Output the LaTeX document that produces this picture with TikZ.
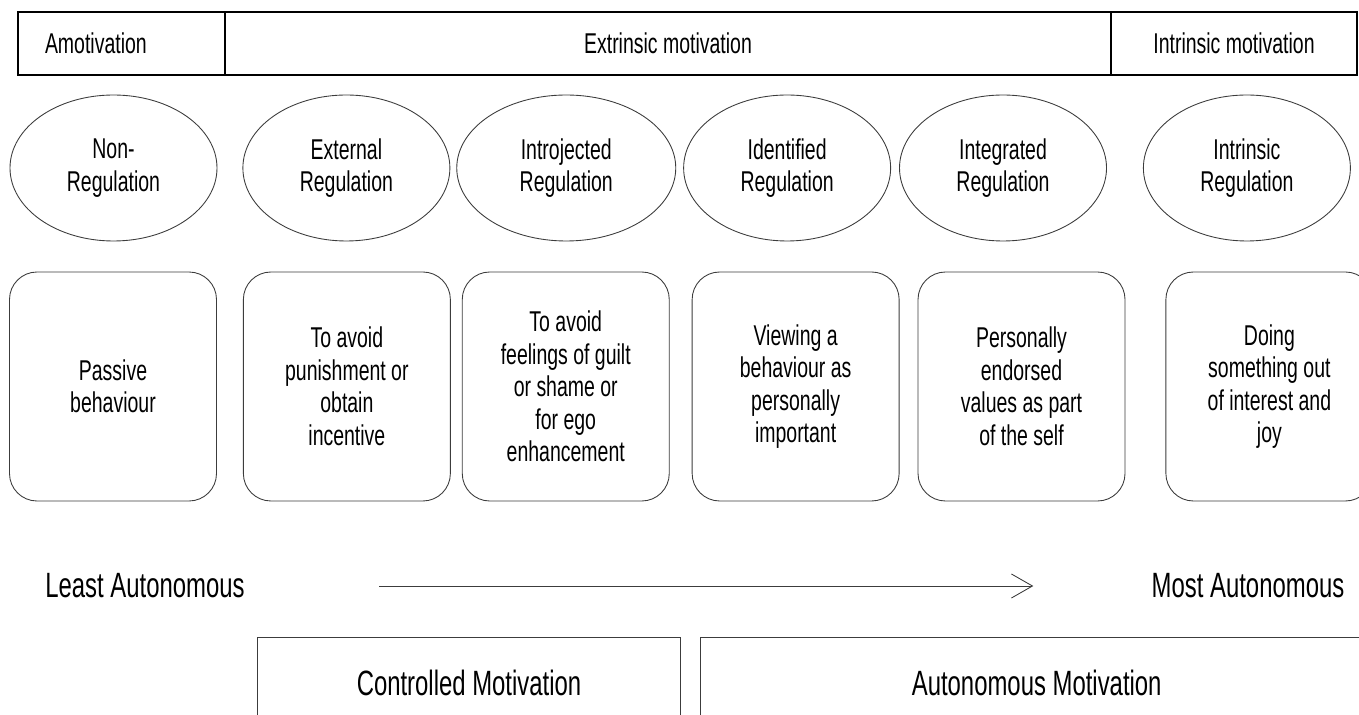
\documentclass[tikz,border=0pt]{standalone}
\usepackage{fontspec}
\setmainfont{Liberation Sans}[FakeStretch=0.68]
\usepackage{xcolor}
\definecolor{linegray}{RGB}{60, 60, 60}
\usepackage{tikz}
\usetikzlibrary{shapes.geometric, arrows.meta, positioning}
\tikzstyle{barbox} = [rectangle, draw, line width=0.9pt, inner sep=0pt, outer sep=0pt, minimum height=1.26cm, font=\fontsize{16.3pt}{18.5pt}\selectfont]
\tikzstyle{regellipse} = [ellipse, draw=linegray, line width=0.5pt, inner sep=0pt, minimum width=4.14cm, minimum height=2.92cm, align=center, font=\fontsize{16.3pt}{18.5pt}\selectfont]
\tikzstyle{behbox} = [rectangle, draw=linegray, line width=0.5pt, rounded corners=0.55cm, minimum width=4.14cm, minimum height=4.58cm, align=center, font=\fontsize{16.3pt}{18.5pt}\selectfont]
\tikzstyle{scalelabel} = [inner sep=0pt, font=\fontsize{20pt}{22pt}\selectfont]
\tikzstyle{groupbox} = [rectangle, inner sep=0pt, minimum height=1.8cm, font=\fontsize{20pt}{22pt}\selectfont]
\tikzstyle{arrow} = [draw=linegray, line width=0.5pt, -{Straight Barb[length=0.42cm, width=0.48cm]}]

\begin{document}
\begin{tikzpicture}[node distance=0.5cm]
    \useasboundingbox (0,0) rectangle (27.18,-14.3);

    % type of motivation
    \node[barbox, minimum width=4.14cm, text width=3.06cm, align=left] (amot) at (2.43,-0.87) {Amotivation};
    \node[barbox, minimum width=17.72cm, right=0cm of amot] (extr) {Extrinsic motivation};
    \node[barbox, minimum width=4.92cm, right=0cm of extr] (intr) {Intrinsic motivation};

    % type of regulation
    \node[regellipse] (nonreg) at (2.27,-3.36) {Non-\\Regulation};
    \node[regellipse, right=0.5cm of nonreg] (extreg) {External\\Regulation};
    \node[regellipse, minimum width=4.38cm, right=0.12cm of extreg] (introreg) {Introjected\\Regulation};
    \node[regellipse, right=0.14cm of introreg] (identreg) {Identified\\Regulation};
    \node[regellipse, right=0.16cm of identreg] (integreg) {Integrated\\Regulation};
    \node[regellipse, right=0.72cm of integreg] (intrreg) {Intrinsic\\Regulation};

    % behaviour
    \node[behbox] (passive) at (2.26,-7.73) {Passive\\behaviour};
    \node[behbox, right=0.52cm of passive] (avoidpun) {To avoid\\punishment or\\obtain\\incentive};
    \node[behbox, right=0.22cm of avoidpun] (avoidguilt) {To avoid\\feelings of guilt\\or shame or\\for ego\\enhancement};
    \node[behbox, right=0.44cm of avoidguilt] (viewing) {Viewing a\\behaviour as\\personally\\important};
    \node[behbox, right=0.36cm of viewing] (endorsed) {Personally\\endorsed\\values as part\\of the self};
    \node[behbox, right=0.8cm of endorsed] (joy) {Doing\\something out\\of interest and\\joy};

    % autonomy scale
    \node[scalelabel] (least) at (2.9,-11.72) {Least Autonomous};
    \node[scalelabel] (most) at (24.96,-11.72) {Most Autonomous};
    \draw[arrow, shorten <=2.68cm, shorten >=2.36cm] (least) -- (most);

    % controlled vs autonomous
    \node[groupbox, minimum width=8.44cm] (ctrl) at (9.38,-13.66) {Controlled Motivation};
    \node[groupbox, minimum width=13.44cm, right=0.4cm of ctrl] (auton) {Autonomous Motivation};
    \draw[linegray, line width=0.5pt] (ctrl.south west) |- (ctrl.north east) -- (ctrl.south east);
    \draw[linegray, line width=0.5pt] (auton.south west) |- (auton.north east) -- (auton.south east);
\end{tikzpicture}
\end{document}
